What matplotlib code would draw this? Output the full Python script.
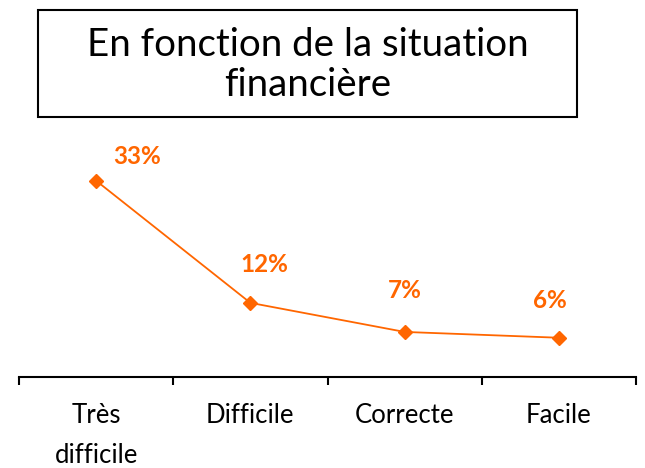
import matplotlib
matplotlib.use("Agg")
import matplotlib.pyplot as plt
from matplotlib.ticker import FixedLocator, NullFormatter, FixedFormatter
from matplotlib.patches import Rectangle

categories = ["Très\ndifficile", "Difficile", "Correcte", "Facile"]
values = [33, 12, 7, 6]
labels = ["33%", "12%", "7%", "6%"]
label_offsets = [(41, 24), (14, 38), (0, 41), (-9, 37)]  # pixels (dx, dy)

orange = "#FF6600"
plt.rcParams['font.family'] = ['Lato', 'DejaVu Sans']

fig = plt.figure(figsize=(6.45, 4.68), dpi=100)
W, H = 645, 468
ax_left, ax_right, ax_bottom, ax_top = 19, 636, 377, 140
ax = fig.add_axes([ax_left / W, 1 - ax_bottom / H, (ax_right - ax_left) / W, (ax_bottom - ax_top) / H])

x = [i + 0.5 for i in range(len(values))]
ax.plot(x, values, color=orange, lw=1.3, marker='D', markersize=7, markeredgecolor=orange)
ax.set_xlim(0, len(values))
ax.set_ylim(-0.75, 40)

for xi, v, lab, (dx, dy) in zip(x, values, labels, label_offsets):
    ax.annotate(lab, (xi, v), xytext=(dx * 72 / 100, dy * 72 / 100), textcoords='offset points',
                ha='center', va='center', color=orange, fontsize=17.5, fontweight='bold')

for s in ['left', 'right', 'top']:
    ax.spines[s].set_visible(False)
ax.spines['bottom'].set_linewidth(1.5)
ax.spines['bottom'].set_color('black')
ax.yaxis.set_visible(False)

ax.xaxis.set_major_locator(FixedLocator(range(len(values) + 1)))
ax.xaxis.set_major_formatter(NullFormatter())
ax.xaxis.set_minor_locator(FixedLocator(x))
ax.xaxis.set_minor_formatter(FixedFormatter(categories))
ax.tick_params(axis='x', which='major', direction='out', length=6, width=1.5, color='black')
ax.tick_params(axis='x', which='minor', length=0, pad=19, labelsize=18.5)
for t in ax.xaxis.get_minorticklabels():
    t.set_linespacing(1.72)
    t.set_verticalalignment('top')

fig.text(308 / W, 1 - 65 / H, "En fonction de la situation\nfinancière", ha='center', va='center',
         fontsize=27.7, linespacing=1.17)

fig.patches.append(Rectangle((38 / W, 1 - 117 / H), (577 - 38) / W, (117 - 10) / H,
                             transform=fig.transFigure, fill=False, ec='black', lw=1.5))

fig.savefig("out.png", dpi=100)
